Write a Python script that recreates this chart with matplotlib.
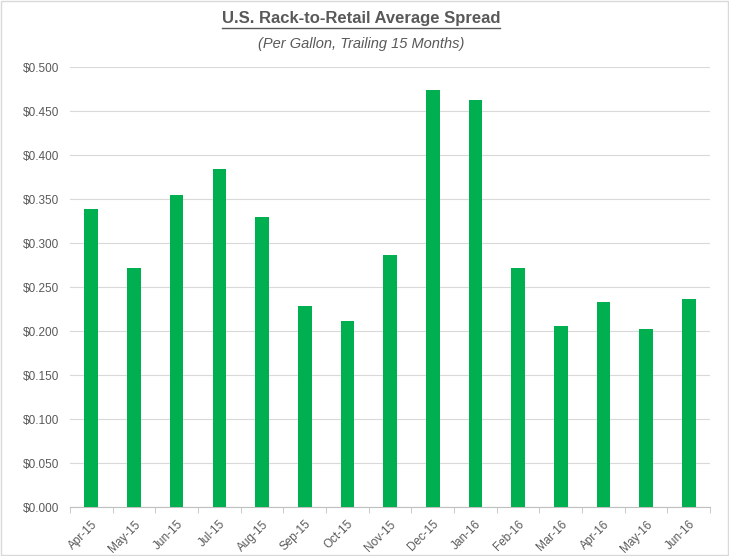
import matplotlib
matplotlib.use('Agg')
import matplotlib.pyplot as plt
from matplotlib.ticker import FuncFormatter, MultipleLocator
from matplotlib.patches import Rectangle
from matplotlib.lines import Line2D

months = ["Apr-15", "May-15", "Jun-15", "Jul-15", "Aug-15", "Sep-15", "Oct-15",
          "Nov-15", "Dec-15", "Jan-16", "Feb-16", "Mar-16", "Apr-16", "May-16", "Jun-16"]
spread = [0.339, 0.272, 0.355, 0.384, 0.330, 0.229, 0.211,
          0.287, 0.474, 0.463, 0.272, 0.206, 0.233, 0.203, 0.237]

title = "U.S. Rack-to-Retail Average Spread"
subtitle = "(Per Gallon, Trailing 15 Months)"

grey = "#595959"
plt.rcParams['font.family'] = ['Liberation Sans', 'DejaVu Sans']

fig = plt.figure(figsize=(7.29, 5.56), dpi=100)
ax = fig.add_axes([0.096, 0.088, 0.878, 0.791])

x = list(range(len(months)))
ax.bar(x, spread, width=0.32, color="#00B050", zorder=3)

ax.set_xlim(-0.5, len(months) - 0.5)
ax.set_ylim(0, 0.5)
ax.yaxis.set_major_locator(MultipleLocator(0.05))
ax.yaxis.set_major_formatter(FuncFormatter(lambda v, p: "${:.3f}".format(v)))
ax.grid(axis='y', color="#D9D9D9", linewidth=0.8, zorder=0)

ax.set_xticks(x)
ax.set_xticklabels(months, rotation=45, ha='right', rotation_mode='anchor')
ax.set_xticks([i - 0.5 for i in range(len(months) + 1)], minor=True)
ax.tick_params(axis='x', which='major', length=0, pad=8, labelsize=8.5, colors=grey)
ax.tick_params(axis='x', which='minor', length=4, color="#BFBFBF")
ax.tick_params(axis='y', length=0, labelsize=8.5, colors=grey, pad=8)

for s in ['top', 'right', 'left']:
    ax.spines[s].set_visible(False)
ax.spines['bottom'].set_color("#BFBFBF")

t = fig.text(0.495, 0.966, title, ha='center', va='center', fontsize=12,
             fontweight='bold', color=grey)
fig.text(0.495, 0.92, subtitle, ha='center', va='center', fontsize=10.5,
         style='italic', color=grey)

# underline the title
fig.canvas.draw()
bb = t.get_window_extent().transformed(fig.transFigure.inverted())
fig.add_artist(Line2D([bb.x0, bb.x1], [bb.y0 - 0.003, bb.y0 - 0.003],
                      color=grey, linewidth=1.0, transform=fig.transFigure))

fig.add_artist(Rectangle((0.002, 0.002), 0.996, 0.996, fill=False,
                         edgecolor="#D9D9D9", linewidth=1.0,
                         transform=fig.transFigure))

fig.savefig("out.png", dpi=100)
